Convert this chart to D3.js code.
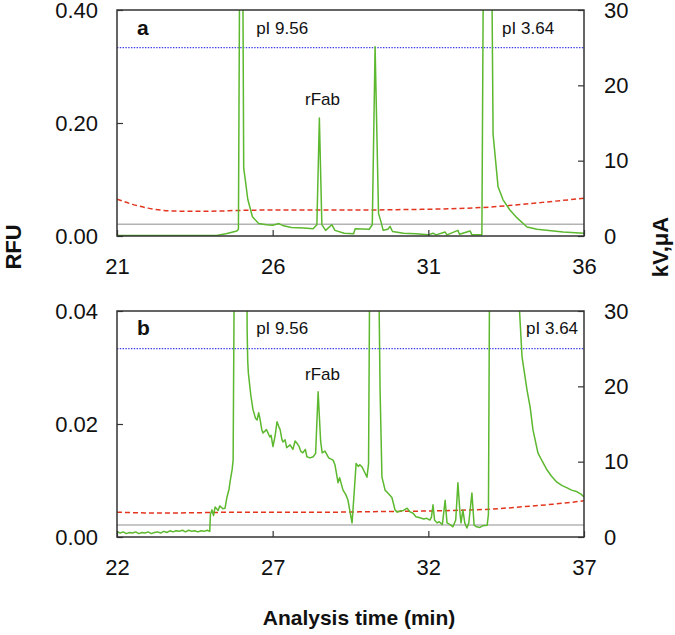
<!DOCTYPE html>
<html>
<head>
<meta charset="utf-8">
<script src="https://cdn.jsdelivr.net/npm/d3@7"></script>
<style>
  body { margin: 0; background: #fff; }
  svg text { font-family: "Liberation Sans", Arial, Helvetica, sans-serif; fill: #111; }
</style>
</head>
<body>
<div class="chart"></div>
<script>
// fluorescence traces, [time (min), RFU]
const traceA = [
  [21, 0.001], [22, 0.001], [23, 0.001], [24.2, 0.001], [24.5, 0.004], [24.85, 0.009],
  [24.9, 0.012], [24.95, 0.6], [25.03, 0.6], [25.07, 0.12], [25.12, 0.1], [25.2, 0.065],
  [25.35, 0.034], [25.55, 0.022], [25.8, 0.02], [26.0, 0.019], [26.2, 0.022], [26.35, 0.018],
  [26.6, 0.015], [27.0, 0.014], [27.3, 0.013], [27.42, 0.02], [27.5, 0.209], [27.58, 0.02],
  [27.7, 0.01], [27.9, 0.02], [28.0, 0.01], [28.3, 0.005], [28.6, 0.004], [28.65, 0.013],
  [29.1, 0.012], [29.2, 0.02], [29.29, 0.335], [29.4, 0.04], [29.48, 0.025], [29.55, 0.01],
  [29.7, 0.012], [29.77, 0.017], [29.85, 0.008], [30.2, 0.005], [30.6, 0.004], [31.0, 0.002],
  [31.15, 0.005], [31.25, 0.002], [31.54, 0.007], [31.6, 0.002], [31.95, 0.01], [32.0, 0.003],
  [32.34, 0.009], [32.4, 0.002], [32.72, 0.002], [32.78, 0.6], [33.02, 0.6], [33.08, 0.18],
  [33.24, 0.087], [33.4, 0.064], [33.62, 0.046], [33.85, 0.032], [34.17, 0.016], [34.49, 0.012],
  [35.33, 0.007], [36, 0.005]
];

const traceB = [
  [22.0, 0.0010], [22.1, 0.0007], [22.2, 0.0009], [22.3, 0.0006], [22.4, 0.0008], [22.5, 0.0007],
  [22.6, 0.0009], [22.7, 0.0006], [22.8, 0.0008], [22.9, 0.0007], [23.0, 0.0009], [23.1, 0.0006],
  [23.2, 0.0008], [23.3, 0.0009], [23.4, 0.0007], [23.5, 0.0010], [23.6, 0.0008], [23.7, 0.0011],
  [23.8, 0.0009], [23.9, 0.0011], [24.0, 0.0010], [24.1, 0.0012], [24.2, 0.0009], [24.3, 0.0012],
  [24.4, 0.0010], [24.5, 0.0011], [24.6, 0.0009], [24.7, 0.0011], [24.8, 0.0010], [24.9, 0.0012],
  [24.98, 0.0010], [25.0, 0.0040], [25.05, 0.0048], [25.1, 0.0038], [25.15, 0.0053], [25.25, 0.0047],
  [25.3, 0.0055], [25.4, 0.0050], [25.47, 0.0051], [25.53, 0.0070], [25.6, 0.0085], [25.63, 0.0097],
  [25.7, 0.0120], [25.73, 0.0136], [25.77, 0.05], [26.17, 0.05], [26.18, 0.0366], [26.2, 0.031],
  [26.22, 0.029], [26.3, 0.025], [26.37, 0.0225], [26.45, 0.021], [26.5, 0.0207], [26.55, 0.022],
  [26.59, 0.021], [26.65, 0.019], [26.69, 0.0184], [26.8, 0.019], [26.91, 0.0177], [26.95, 0.018],
  [27.01, 0.016], [27.08, 0.018], [27.14, 0.0204], [27.2, 0.0195], [27.24, 0.019], [27.3, 0.0172],
  [27.33, 0.0168], [27.4, 0.0172], [27.45, 0.0158], [27.56, 0.0163], [27.65, 0.0155], [27.72, 0.017],
  [27.78, 0.0166], [27.85, 0.016], [27.9, 0.0152], [27.97, 0.0149], [28.05, 0.0155], [28.1, 0.0142],
  [28.2, 0.014], [28.3, 0.0142], [28.38, 0.0148], [28.46, 0.0257], [28.54, 0.017], [28.59, 0.0149],
  [28.68, 0.0152], [28.8, 0.014], [28.94, 0.0136], [29.0, 0.0128], [29.07, 0.0106], [29.1, 0.0096],
  [29.15, 0.0105], [29.26, 0.0083], [29.35, 0.0075], [29.42, 0.0065], [29.5, 0.004], [29.55, 0.0025],
  [29.62, 0.008], [29.68, 0.013], [29.75, 0.0125], [29.8, 0.0128], [29.87, 0.0124], [29.95, 0.0115],
  [30.03, 0.0106], [30.08, 0.013], [30.12, 0.05], [30.4, 0.05], [30.45, 0.026], [30.51, 0.0106],
  [30.56, 0.0095], [30.61, 0.0083], [30.7, 0.0078], [30.83, 0.007], [30.93, 0.0048], [31.0, 0.0044],
  [31.1, 0.0046], [31.2, 0.0047], [31.32, 0.0051], [31.4, 0.0045], [31.51, 0.0042], [31.6, 0.0036],
  [31.73, 0.0034], [31.85, 0.0032], [31.95, 0.0033], [32.05, 0.003], [32.1, 0.0035], [32.15, 0.0057],
  [32.2, 0.003], [32.28, 0.0025], [32.35, 0.0027], [32.45, 0.0022], [32.54, 0.0065], [32.6, 0.0025],
  [32.7, 0.0022], [32.79, 0.0018], [32.88, 0.003], [32.95, 0.0096], [33.02, 0.004], [33.05, 0.0025],
  [33.11, 0.0048], [33.17, 0.0025], [33.24, 0.0016], [33.3, 0.0025], [33.4, 0.0078], [33.47, 0.0021],
  [33.55, 0.0018], [33.66, 0.0017], [33.75, 0.002], [33.89, 0.0021], [33.93, 0.004], [33.97, 0.05],
  [34.83, 0.05], [35.01, 0.0319], [35.17, 0.026], [35.27, 0.023], [35.36, 0.019], [35.52, 0.0149],
  [35.65, 0.0135], [35.81, 0.0119], [35.95, 0.0108], [36.13, 0.0097], [36.3, 0.0091], [36.46, 0.0087],
  [36.6, 0.0083], [36.78, 0.008], [36.9, 0.0076], [37.0, 0.0071]
];

// current (red dashed), [time, µA]
const currentA = [
  [21, 4.9], [21.5, 4.2], [22, 3.7], [22.5, 3.4], [23, 3.3], [24, 3.3], [25, 3.4], [26, 3.45],
  [27, 3.45], [28, 3.45], [29, 3.45], [30, 3.5], [31, 3.55], [32, 3.65], [33, 3.85], [34, 4.2],
  [35, 4.6], [36, 5.0]
];
const currentB = [
  [22, 3.3], [23, 3.2], [24, 3.2], [25, 3.25], [26, 3.3], [27, 3.3], [28, 3.3], [29, 3.3],
  [30, 3.35], [31, 3.4], [32, 3.45], [33, 3.55], [34, 3.7], [35, 4.0], [36, 4.35], [37, 4.8]
];

const voltage = [25, 25];      // kV, blue dotted
const grayLevel = [1.55, 1.6]; // grey trace, kV/µA

const timeTicksA = [21, 26, 31, 36];
const timeTicksB = [22, 27, 32, 37];
const rfuTicksA = [0, 0.2, 0.4];
const rfuTicksB = [0, 0.02, 0.04];
const kvTicks = [0, 10, 20, 30];

const panelLabels = ['a', 'b'];
// annotation text, placed at a time (left edge of text)
const peakLabels = [
  [{ t: 25.47, text: 'pI 9.56' }, { t: 27.04, text: 'rFab' }, { t: 33.37, text: 'pI 3.64' }],
  [{ t: 26.47, text: 'pI 9.56' }, { t: 28.04, text: 'rFab' }, { t: 35.14, text: 'pI 3.64' }]
];

const width = 675, height = 635;
const left = 117, right = 584;

const svg = d3.select('.chart').append('svg')
  .attr('width', width).attr('height', height);

const panels = [
  { top: 10, bottom: 236, trace: traceA, current: currentA, tTicks: timeTicksA, rTicks: rfuTicksA,
    labelY: 34, rfabY: 105 },
  { top: 311, bottom: 537, trace: traceB, current: currentB, tTicks: timeTicksB, rTicks: rfuTicksB,
    labelY: 334, rfabY: 380 }
];

panels.forEach((p, i) => {
  const x = d3.scaleLinear([p.tTicks[0], p.tTicks[3]], [left, right]);
  const y = d3.scaleLinear([0, p.rTicks[2]], [p.bottom, p.top]);
  const y2 = d3.scaleLinear([0, 30], [p.bottom, p.top]);
  const g = svg.append('g');

  g.append('clipPath').attr('id', 'clip' + i)
    .append('rect').attr('x', left).attr('y', p.top)
    .attr('width', right - left).attr('height', p.bottom - p.top);

  const plot = g.append('g').attr('clip-path', `url(#clip${i})`);

  // grey line
  plot.append('line')
    .attr('x1', left).attr('x2', right)
    .attr('y1', y2(grayLevel[i])).attr('y2', y2(grayLevel[i]))
    .attr('stroke', '#b4b4b4').attr('stroke-width', 1.5);

  // voltage
  plot.append('line')
    .attr('x1', left).attr('x2', right)
    .attr('y1', y2(voltage[i])).attr('y2', y2(voltage[i]))
    .attr('stroke', '#3c3cf0').attr('stroke-width', 1.2)
    .attr('stroke-dasharray', '1.4,1.4');

  // current
  plot.append('path')
    .datum(p.current)
    .attr('d', d3.line().x(d => x(d[0])).y(d => y2(d[1])).curve(d3.curveMonotoneX))
    .attr('fill', 'none').attr('stroke', '#e2361f').attr('stroke-width', 1.5)
    .attr('stroke-dasharray', '5,3');

  // fluorescence
  plot.append('path')
    .datum(p.trace)
    .attr('d', d3.line().x(d => x(d[0])).y(d => y(d[1])))
    .attr('fill', 'none').attr('stroke', '#5cb82e').attr('stroke-width', 1.5)
    .attr('stroke-linejoin', 'round');

  // axes, ticks pointing inward
  const bottomAxis = g.append('g').attr('transform', `translate(0,${p.bottom})`)
    .call(d3.axisBottom(x).tickValues(p.tTicks).tickSizeInner(-6).tickSizeOuter(0).tickPadding(22));
  const leftAxis = g.append('g').attr('transform', `translate(${left},0)`)
    .call(d3.axisLeft(y).tickValues(p.rTicks).tickFormat(d3.format('.2f'))
      .tickSizeInner(-6).tickSizeOuter(0).tickPadding(19));
  const rightAxis = g.append('g').attr('transform', `translate(${right},0)`)
    .call(d3.axisRight(y2).tickValues(kvTicks).tickSizeInner(-6).tickSizeOuter(0).tickPadding(20));

  [bottomAxis, leftAxis, rightAxis].forEach(a => {
    a.select('.domain').remove();
    a.selectAll('line').attr('stroke', '#333').attr('stroke-width', 1.2);
    a.selectAll('text').attr('font-size', 22).attr('fill', '#111');
  });

  // frame
  g.append('rect')
    .attr('x', left).attr('y', p.top)
    .attr('width', right - left).attr('height', p.bottom - p.top)
    .attr('fill', 'none').attr('stroke', '#333').attr('stroke-width', 1.5);

  g.append('text')
    .attr('x', 137).attr('y', p.labelY + 1)
    .attr('font-size', 21).attr('font-weight', 'bold')
    .text(panelLabels[i]);

  peakLabels[i].forEach((l, k) => {
    g.append('text')
      .attr('x', x(l.t)).attr('y', k === 1 ? p.rfabY : p.labelY)
      .attr('font-size', 17)
      .text(l.text);
  });
});

svg.append('text')
  .attr('transform', 'translate(21,247) rotate(-90)')
  .attr('text-anchor', 'middle').attr('font-size', 22).attr('font-weight', 'bold')
  .text('RFU');

svg.append('text')
  .attr('transform', 'translate(668,247) rotate(-90)')
  .attr('text-anchor', 'middle').attr('font-size', 22).attr('font-weight', 'bold')
  .text('kV,μA');

svg.append('text')
  .attr('x', 359).attr('y', 625)
  .attr('text-anchor', 'middle').attr('font-size', 21).attr('font-weight', 'bold')
  .text('Analysis time (min)');
</script>
</body>
</html>
